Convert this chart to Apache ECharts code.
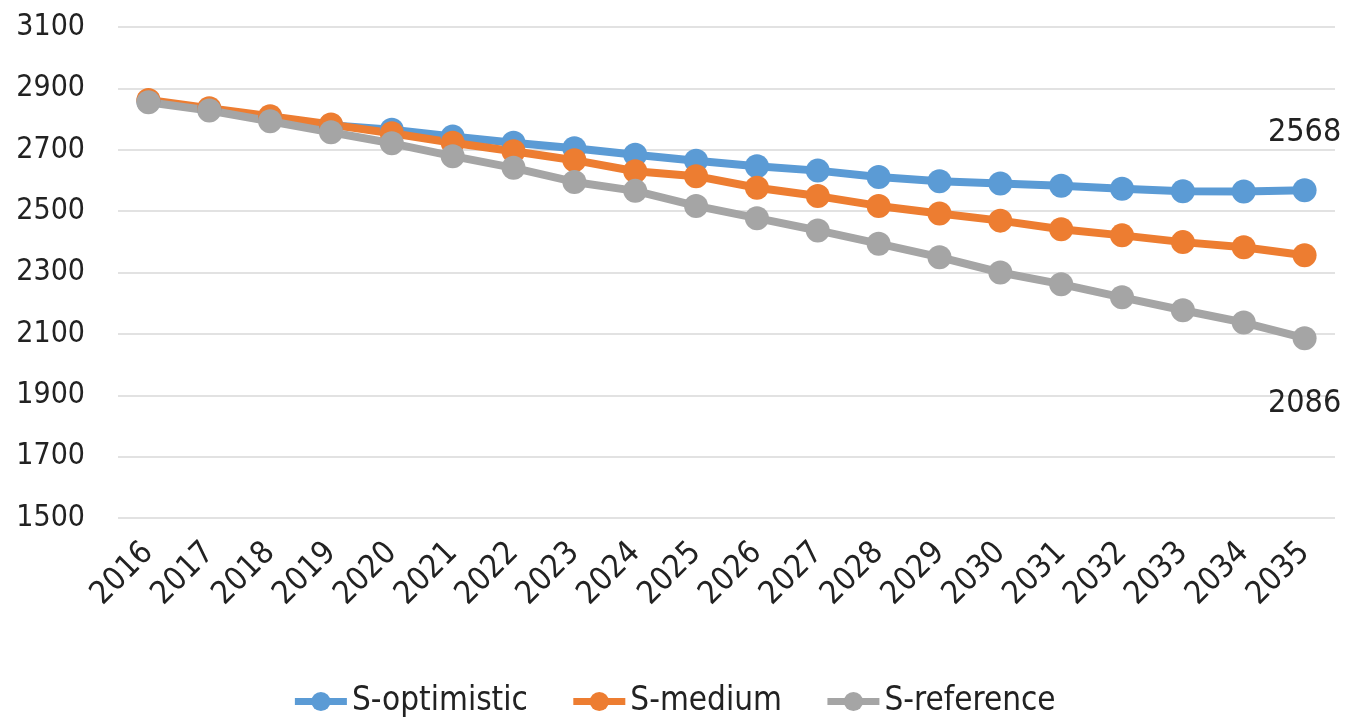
<!DOCTYPE html>
<html><head><meta charset="utf-8">
<script src="https://cdn.jsdelivr.net/npm/echarts@6/dist/echarts.min.js"></script>
<style>html,body{margin:0;padding:0;background:#fff}#c{width:1347px;height:723px}</style>
</head><body><div id="c"></div>
<script>
const years = ['2016','2017','2018','2019','2020','2021','2022','2023','2024','2025','2026','2027','2028','2029','2030','2031','2032','2033','2034','2035'];
const optimistic = [2858,2832,2806,2780,2765,2743,2723,2705,2684,2664,2646,2632,2611,2597,2590,2583,2573,2565,2564,2568];
const medium     = [2862,2835,2809,2782,2754,2723,2695,2666,2630,2614,2576,2549,2517,2492,2469,2441,2421,2399,2382,2356];
const reference  = [2855,2828,2793,2757,2721,2679,2641,2595,2566,2517,2477,2437,2394,2350,2300,2262,2219,2177,2137,2086];
const names = ['S-optimistic','S-medium','S-reference'];
const colors = ['#5B9BD5','#ED7D31','#A5A5A5'];
const font = "'Liberation Sans Narrow','DejaVu Sans Condensed',sans-serif";

function mk(name, data, color, labelPos) {
  return {
    name, type: 'line', data: data.map((v, i) => {
      if (labelPos && i === data.length - 1) {
        return { value: v, label: { show: true, position: labelPos, distance: labelPos === 'top' ? 30 : 38,
          fontSize: 32, color: '#222', fontFamily: font } };
      }
      return v;
    }),
    symbol: 'circle', symbolSize: 24,
    lineStyle: { width: 8, color },
    itemStyle: { color },
    label: { show: false },
    emphasis: { disabled: true },
    z: 3
  };
}

const chart = echarts.init(document.getElementById('c'));
chart.setOption({
  animation: false,
  color: colors,
  grid: { left: 118, right: 12, top: 27, bottom: 205, containLabel: false },
  legend: {
    bottom: 0, left: 'center', itemWidth: 52, itemHeight: 24, itemGap: 42,
    lineStyle: { width: 7 },
    textStyle: { fontSize: 33, color: '#222', fontFamily: font },
    data: names
  },
  xAxis: {
    type: 'category', data: years, boundaryGap: true,
    axisLine: { show: false }, axisTick: { show: false },
    axisLabel: { rotate: 45, fontSize: 32, color: '#222', fontFamily: font, margin: 30 }
  },
  yAxis: {
    type: 'value', min: 1500, max: 3100, interval: 200,
    axisLine: { show: false }, axisTick: { show: false },
    axisLabel: { fontSize: 30, color: '#222', fontFamily: font, margin: 33, formatter: v => String(v) },
    splitLine: { lineStyle: { color: '#d9d9d9', width: 1.5 } }
  },
  series: [
    mk(names[0], optimistic, colors[0], 'top'),
    mk(names[1], medium, colors[1], null),
    mk(names[2], reference, colors[2], 'bottom')
  ]
});
</script></body></html>
